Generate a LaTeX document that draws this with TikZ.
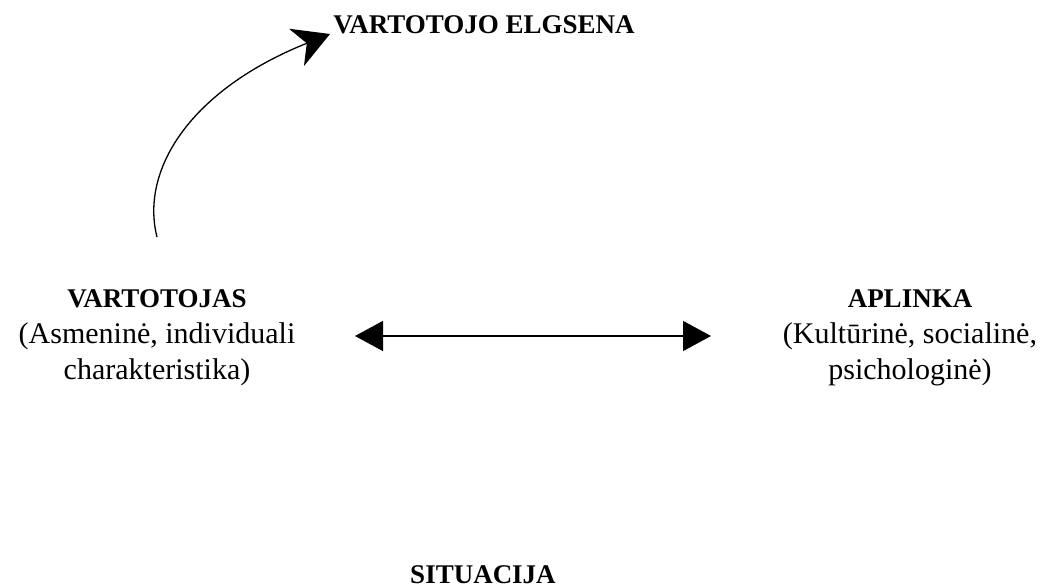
\documentclass[tikz,border=0pt]{standalone}
\usepackage{fontspec}
\setmainfont{Liberation Serif}
\usetikzlibrary{arrows.meta}
\begin{document}
\begin{tikzpicture}[x=1pt,y=-1pt,
  label/.style={font=\fontsize{30}{36}\selectfont, align=center, inner sep=0pt},
  head/.style={font=\fontsize{27}{36}\selectfont\bfseries, inner sep=0pt, anchor=base},
  link/.style={line width=1.3pt}]
\useasboundingbox (0,0) rectangle (1052,588);
% labels
\node[head] (behav) at (484,34) {VARTOTOJO ELGSENA};
\node[label] (cons) at (157,338) {{\fontsize{27}{36}\selectfont\bfseries VARTOTOJAS}\\(Asmeninė, individuali\\charakteristika)};
\node[label] (env) at (910,338) {{\fontsize{27}{36}\selectfont\bfseries APLINKA}\\(Kultūrinė, socialinė,\\psichologinė)};
\node[head] (sit) at (483,583) {SITUACIJA};
% anchor points of the connectors
\coordinate (c0) at (157,237);
\coordinate (c1) at (330,34);
\coordinate (l0) at (355,336);
\coordinate (r0) at (711,336);
% curved arrow towards behaviour
\draw[link,-{Stealth[length=36pt,width=40pt,inset=11pt]}] (c0) .. controls (140,170) and (190,90) .. (c1);
% two-way link between consumer and environment
\draw[link,{Triangle[length=28pt,width=30pt]}-{Triangle[length=28pt,width=30pt]}] (l0) -- (r0);
\end{tikzpicture}
\end{document}
